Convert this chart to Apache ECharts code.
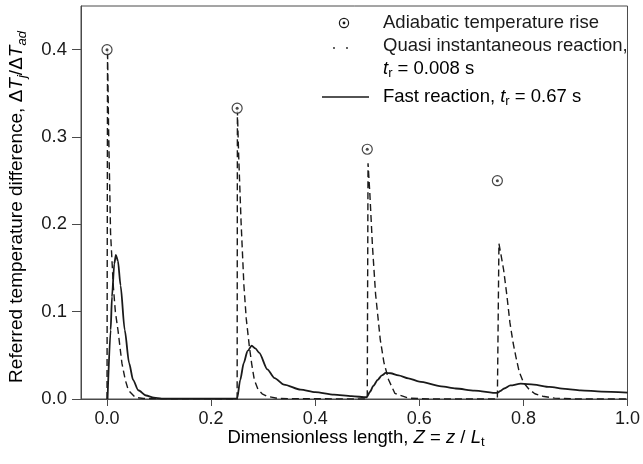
<!DOCTYPE html>
<html>
<head>
<meta charset="utf-8">
<script src="https://cdn.jsdelivr.net/npm/echarts@6/dist/echarts.min.js"></script>
<style>
html,body{margin:0;padding:0;background:#fff;}
#chart{width:643px;height:464px;}
</style>
</head>
<body>
<div id="chart"></div>
<script>
// ---- data ----
const xTickValues = [0, 0.2, 0.4, 0.6, 0.8, 1.0];
const yTickValues = [0, 0.1, 0.2, 0.3, 0.4];

// Adiabatic temperature rise (markers)
const adiabaticRise = [[0, 0.40], [0.25, 0.333], [0.5, 0.286], [0.75, 0.25]];

// Quasi instantaneous reaction, t_r = 0.008 s (dashed)
const quasiInstant = [
  [0, 0], [0.001, 0.40], [0.003, 0.31], [0.0068, 0.19], [0.012, 0.13], [0.016, 0.10],
  [0.021, 0.079], [0.0286, 0.041], [0.035, 0.022], [0.041, 0.010], [0.054, 0.002],
  [0.07, 0.0005], [0.25, 0],
  [0.2505, 0.33], [0.253, 0.278], [0.2576, 0.202], [0.263, 0.13], [0.2675, 0.092],
  [0.2735, 0.060], [0.278, 0.040], [0.283, 0.022], [0.29, 0.011], [0.298, 0.006],
  [0.308, 0.003], [0.33, 0.0005], [0.5, 0],
  [0.5015, 0.27], [0.505, 0.235], [0.51, 0.175], [0.516, 0.12], [0.525, 0.068],
  [0.532, 0.042], [0.541, 0.022], [0.553, 0.0065], [0.579, 0.001], [0.62, 0], [0.75, 0],
  [0.753, 0.178], [0.757, 0.165], [0.762, 0.148], [0.768, 0.12], [0.774, 0.088],
  [0.78, 0.065], [0.7855, 0.0486], [0.792, 0.031], [0.80, 0.019], [0.811, 0.011],
  [0.822, 0.006], [0.837, 0.0032], [0.86, 0.001], [0.9, 0], [1.0, 0]
];

// Fast reaction, t_r = 0.67 s (solid)
const fastReaction = [
  [0.001, 0], [0.007, 0.079], [0.0095, 0.117], [0.014, 0.155], [0.017, 0.165],
  [0.021, 0.158], [0.026, 0.13], [0.034, 0.079], [0.0425, 0.041], [0.05, 0.022],
  [0.06, 0.010], [0.075, 0.004], [0.09, 0.0015], [0.105, 0.0005], [0.25, 0.0005],
  [0.256, 0.022], [0.2626, 0.041], [0.27, 0.055], [0.278, 0.061], [0.285, 0.058],
  [0.2925, 0.0528], [0.308, 0.034], [0.322, 0.024], [0.340, 0.0165], [0.372, 0.0107],
  [0.40, 0.0078], [0.436, 0.005], [0.47, 0.0032], [0.499, 0.002],
  [0.505, 0.008], [0.512, 0.0153], [0.52, 0.022], [0.528, 0.027], [0.5355, 0.0298],
  [0.545, 0.0295], [0.56, 0.027], [0.579, 0.0237], [0.60, 0.020], [0.642, 0.0145],
  [0.67, 0.012], [0.706, 0.0096], [0.75, 0.0069],
  [0.755, 0.009], [0.763, 0.012], [0.775, 0.0155], [0.795, 0.0176], [0.82, 0.0165],
  [0.85, 0.0138], [0.88, 0.0117], [0.91, 0.0099], [0.95, 0.0085], [1.0, 0.0073]
];

// ---- chart ----
const FONT = '"Liberation Sans", Arial, Helvetica, sans-serif';
const INK = '#1a1a1a';
const AX = '#4a4a4a';
const base = {fontFamily: FONT, color: INK};
function rich(size) {
  const sub = Math.round(size * 0.68);
  const pad = Math.round(size * 0.5);
  return {
    n: Object.assign({fontSize: size, lineHeight: size + 4}, base),
    i: Object.assign({fontSize: size, lineHeight: size + 4, fontStyle: 'italic'}, base),
    s: Object.assign({fontSize: sub, lineHeight: sub, padding: [pad, 0, 0, 0]}, base),
    si: Object.assign({fontSize: sub, lineHeight: sub, padding: [pad, 0, 0, 0], fontStyle: 'italic'}, base)
  };
}

const chart = echarts.init(document.getElementById('chart'), null, {renderer: 'canvas'});
chart.setOption({
  animation: false,
  backgroundColor: '#fff',
  grid: {left: 81, right: 12, top: 6, bottom: 65, show: true, borderColor: AX, borderWidth: 1, backgroundColor: 'transparent'},
  xAxis: {
    type: 'value', min: -0.05, max: 1.0,
    splitLine: {show: false},
    axisLine: {show: true, onZero: false, lineStyle: {color: AX, width: 1}},
    axisTick: {show: true, inside: false, length: 7, customValues: xTickValues, lineStyle: {color: AX}},
    axisLabel: {customValues: xTickValues, formatter: v => v.toFixed(1), fontFamily: FONT, fontSize: 18, color: INK, margin: 11}
  },
  yAxis: {
    type: 'value', min: 0, max: 0.45,
    splitLine: {show: false},
    axisLine: {show: true, onZero: false, lineStyle: {color: AX, width: 1}},
    axisTick: {show: true, inside: false, length: 9, customValues: yTickValues, lineStyle: {color: AX}},
    axisLabel: {customValues: yTickValues, formatter: v => v.toFixed(1), fontFamily: FONT, fontSize: 18.5, color: INK, margin: 14}
  },
  series: [
    {
      type: 'line', name: 'Quasi instantaneous reaction', data: quasiInstant,
      showSymbol: false, symbol: 'none', z: 3,
      lineStyle: {color: INK, width: 1.4, type: [7, 4]}
    },
    {
      type: 'line', name: 'Fast reaction', data: fastReaction,
      showSymbol: false, symbol: 'none', z: 4, smooth: 0.25, smoothMonotone: 'x',
      lineStyle: {color: INK, width: 1.8}
    },
    {
      type: 'scatter', name: 'Adiabatic temperature rise', data: adiabaticRise, z: 5,
      symbol: 'circle', symbolSize: 10,
      itemStyle: {color: '#fff', borderColor: INK, borderWidth: 1.2}
    },
    {
      type: 'scatter', name: 'Adiabatic temperature rise (dot)', data: adiabaticRise, z: 6,
      symbol: 'circle', symbolSize: 3,
      itemStyle: {color: INK}
    }
  ],
  graphic: [
    // axis titles
    {type: 'text', x: 356, y: 438, z: 10,
     style: {text: '{n|Dimensionless length, }{i|Z}{n| = }{i|z}{n| / }{i|L}{s|t}', rich: rich(18.5), align: 'center', verticalAlign: 'middle'}},
    {type: 'text', x: 17, y: 207, rotation: Math.PI / 2, z: 10,
     style: {text: '{n|Referred temperature difference, Δ}{i|T}{si|j}{n|/Δ}{i|T}{si|ad}', rich: rich(19), align: 'center', verticalAlign: 'middle'}},
    // legend row 1
    {type: 'circle', shape: {cx: 344, cy: 23, r: 4.6}, style: {fill: '#fff', stroke: INK, lineWidth: 1.2}, z: 10},
    {type: 'circle', shape: {cx: 344, cy: 23, r: 1.4}, style: {fill: INK}, z: 11},
    {type: 'text', x: 383, y: 23, style: {text: 'Adiabatic temperature rise', font: '18.5px ' + FONT, fill: INK, verticalAlign: 'middle'}, z: 10},
    // legend row 2
    {type: 'circle', shape: {cx: 334, cy: 48, r: 0.9}, style: {fill: INK}, z: 10},
    {type: 'circle', shape: {cx: 347, cy: 48, r: 0.9}, style: {fill: INK}, z: 10},
    {type: 'text', x: 383, y: 46, style: {text: 'Quasi instantaneous reaction,', font: '18.5px ' + FONT, fill: INK, verticalAlign: 'middle'}, z: 10},
    {type: 'text', x: 383, y: 69, style: {text: '{i|t}{s|r}{n| = 0.008 s}', rich: rich(18.5), verticalAlign: 'middle'}, z: 10},
    // legend row 3
    {type: 'line', shape: {x1: 322, y1: 97, x2: 369, y2: 97}, style: {stroke: INK, lineWidth: 1.5}, z: 10},
    {type: 'text', x: 383, y: 97, style: {text: '{n|Fast reaction, }{i|t}{s|r}{n| = 0.67 s}', rich: rich(18.5), verticalAlign: 'middle'}, z: 10}
  ]
});
</script>
</body>
</html>
